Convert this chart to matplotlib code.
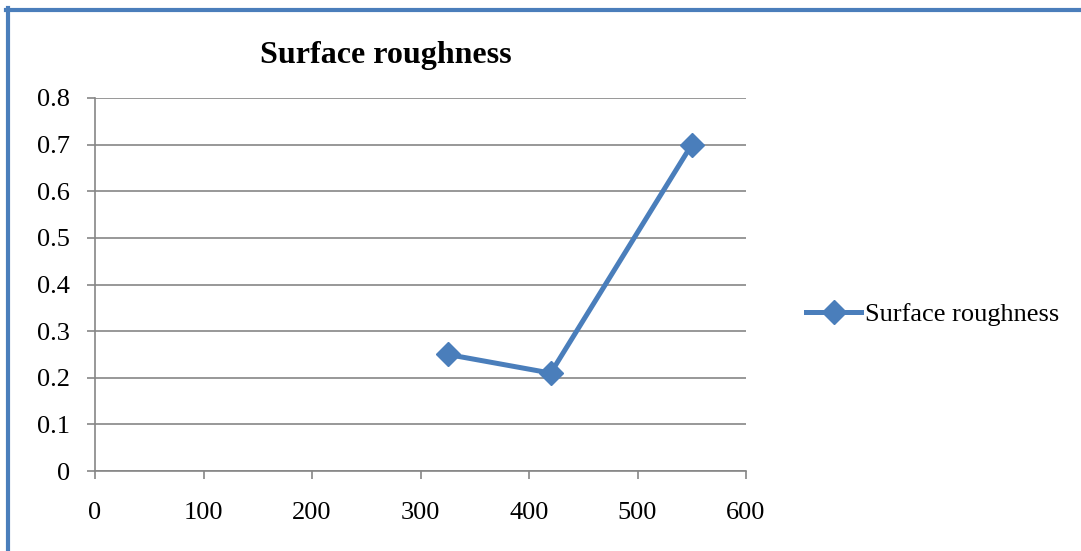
import matplotlib
matplotlib.use("Agg")
import matplotlib.pyplot as plt
from matplotlib.lines import Line2D

matplotlib.rcParams.update({
    'font.family': ['Liberation Serif', 'DejaVu Serif'],
    'font.size': 19,
})

temperature = [325, 420, 550]
roughness = [0.25, 0.21, 0.7]
x_ticks = [0, 100, 200, 300, 400, 500, 600]
y_ticks = [0, 0.1, 0.2, 0.3, 0.4, 0.5, 0.6, 0.7, 0.8]
y_labels = ['0', '0.1', '0.2', '0.3', '0.4', '0.5', '0.6', '0.7', '0.8']

blue = '#4a7ebb'
grey = '#868686'

W, H = 1081, 551
fig = plt.figure(figsize=(W / 100, H / 100), dpi=100)
ax = fig.add_axes([95 / W, 1 - 471 / H, (746 - 95) / W, (471 - 98) / H])

ax.plot(temperature, roughness, color=blue, lw=3.6, marker='D', ms=12,
        label='Surface roughness', zorder=3, clip_on=False)

ax.set_xlim(0, 600)
ax.set_ylim(0, 0.8)
ax.set_xticks(x_ticks)
ax.set_yticks(y_ticks)
ax.set_yticklabels(y_labels)
ax.yaxis.grid(True, color=grey, lw=1.2)
ax.set_axisbelow(True)
for side in ['top', 'right']:
    ax.spines[side].set_visible(False)
for side in ['left', 'bottom']:
    ax.spines[side].set_color(grey)
    ax.spines[side].set_linewidth(1.2)
ax.tick_params(axis='both', direction='out', length=6, width=1.2, color=grey,
               labelsize=19, labelcolor='black')
ax.tick_params(axis='y', pad=12)
ax.tick_params(axis='x', pad=16)

fig.text(386 / W, 1 - 56 / H, 'Surface roughness', ha='center', va='center',
         fontsize=23, fontweight='bold')

handle = Line2D([], [], color=blue, lw=3.6, marker='D', ms=12)
fig.legend([handle], ['Surface roughness'], loc='center left',
           bbox_to_anchor=(806 / W, 1 - 314 / H), frameon=False,
           fontsize=19, handlelength=2.1, handletextpad=0.15,
           borderpad=0, borderaxespad=0)

# chart frame on the left and top edges
fig.add_artist(Line2D([8 / W, 8 / W], [0, 1 - 8 / H], color=blue, lw=3,
                      transform=fig.transFigure))
fig.add_artist(Line2D([6 / W, 1], [1 - 9.5 / H, 1 - 9.5 / H], color=blue, lw=3,
                      transform=fig.transFigure))

fig.savefig('out.png', dpi=100)
